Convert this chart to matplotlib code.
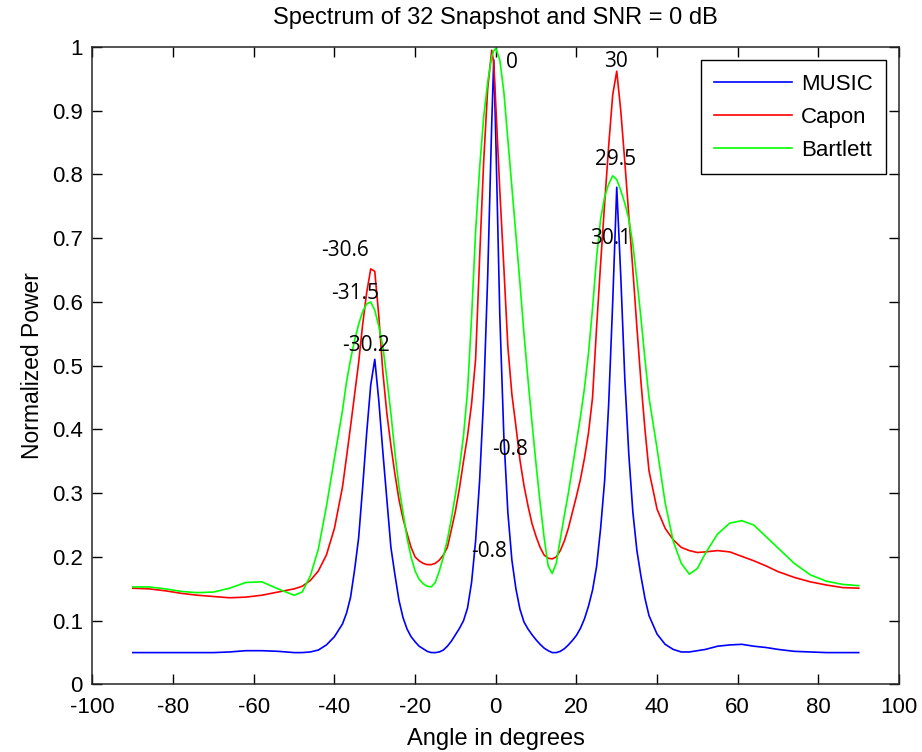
import matplotlib
matplotlib.use("Agg")
import matplotlib.pyplot as plt

# angle grid (degrees)
angles = [-90, -86, -82, -78, -74, -70, -66, -62, -58, -54, -50, -48, -46, -44, -42, -40, -38,
          -37, -36, -35, -34, -33, -32, -31, -30, -29, -28, -27, -26, -25, -24, -23, -22, -21, -20,
          -19, -18, -17, -16, -15, -14, -13, -12, -11, -10, -9, -8, -7, -6, -5, -4, -3, -2, -1,
          -0.5,
          0, 1, 2, 3, 4, 5, 6, 7, 8, 9, 10, 11, 12, 13, 14, 15, 16, 17, 18, 19, 20,
          21, 22, 23, 24, 25, 26, 27, 28, 29, 30, 31, 32, 33, 34, 35, 36, 37,
          38, 40, 42, 44, 46, 48, 50, 52, 55, 58, 61, 64, 67, 70, 74, 78, 82, 86, 90]

music = [.050, .050, .050, .050, .050, .050, .051, .053, .053, .052, .050, .050, .051, .054, .062, .075, .095,
         .112, .137, .180, .230, .310, .395, .470, .510, .445, .365, .290, .215, .172, .132, .105, .087, .075, .067,
         .060, .056, .052, .050, .050, .051, .054, .060, .068, .078, .088, .100, .120, .160, .225, .320, .450, .640, .880,
         .980,
         .860, .580, .390, .270, .195, .150, .118, .098, .087, .078, .070, .063, .057, .053, .050, .050, .052, .056, .062, .069, .077,
         .088, .103, .123, .148, .185, .245, .320, .440, .600, .780, .640, .480, .360, .270, .210, .170, .135,
         .108, .079, .063, .055, .051, .051, .053, .055, .060, .062, .063, .060, .058, .055, .052, .051, .050, .050, .050]

capon = [.151, .150, .147, .143, .140, .138, .136, .137, .140, .145, .150, .154, .163, .178, .203, .245, .310,
         .357, .405, .455, .505, .565, .615, .652, .648, .578, .490, .425, .375, .330, .290, .260, .237, .215, .200,
         .194, .190, .188, .188, .190, .195, .203, .215, .243, .272, .308, .350, .390, .440, .510, .670, .820, .935, .995,
         .975,
         .910, .775, .655, .530, .455, .405, .352, .312, .280, .252, .232, .215, .203, .198, .197, .200, .210, .225, .245, .270, .295,
         .322, .355, .395, .450, .560, .660, .755, .845, .925, .962, .900, .820, .735, .650, .560, .475, .400,
         .335, .275, .245, .227, .215, .210, .207, .208, .210, .208, .201, .194, .186, .177, .168, .161, .156, .152, .151]

bartlett = [.153, .153, .150, .146, .144, .145, .151, .160, .161, .150, .140, .145, .170, .212, .279, .355, .430,
            .475, .510, .540, .565, .585, .597, .600, .587, .562, .530, .480, .425, .363, .310, .270, .230, .200, .178,
            .165, .158, .154, .153, .160, .178, .200, .227, .260, .298, .340, .390, .460, .575, .710, .810, .890, .945, .985,
            .994,
            .998, .980, .930, .855, .780, .705, .630, .550, .478, .410, .345, .285, .230, .186, .174, .190, .228, .265, .300, .340, .380,
            .420, .465, .520, .590, .670, .730, .765, .785, .798, .792, .775, .755, .730, .690, .635, .575, .510,
            .450, .370, .285, .225, .190, .173, .182, .206, .236, .253, .257, .250, .232, .214, .190, .172, .162, .157, .155]

# peak annotations: text, x (deg), y (power)
peak_text = ["-30.6", "-31.5", "-30.2", "0", "30", "29.5", "30.1", "-0.8", "-0.8"]
peak_x = [-37.4, -34.9, -32.2, 4.0, 29.8, 29.6, 28.6, 3.5, -1.7]
peak_y = [0.681, 0.614, 0.531, 0.975, 0.978, 0.823, 0.700, 0.369, 0.209]

plt.rcParams['font.family'] = ['Liberation Sans', 'DejaVu Sans']
plt.rcParams['font.size'] = 16
plt.rcParams['axes.unicode_minus'] = False

fig = plt.figure(figsize=(9.22, 7.52), dpi=100)
ax = fig.add_axes([0.1003, 0.0898, 0.8748, 0.8477])

ax.plot(angles, music, color=(0, 0, 1), lw=1.2, label='MUSIC')
ax.plot(angles, capon, color=(1, 0, 0), lw=1.2, label='Capon')
ax.plot(angles, bartlett, color=(0, 1, 0), lw=1.2, label='Bartlett')

for t, x, y in zip(peak_text, peak_x, peak_y):
    ax.text(x, y, t, ha='center', va='center', fontsize=15, family=['Open Sans', 'DejaVu Sans'])

ax.set_xlim(-100, 100)
ax.set_ylim(0, 1)
ax.set_xticks(range(-100, 101, 20))
ax.set_yticks([i / 10 for i in range(11)])
ax.set_yticklabels(['0', '0.1', '0.2', '0.3', '0.4', '0.5', '0.6', '0.7', '0.8', '0.9', '1'])
ax.tick_params(direction='in', length=7, width=1, top=True, right=True, labelsize=16)
ax.tick_params(axis='x', pad=9)
ax.tick_params(axis='y', pad=7)
for s in ax.spines.values():
    s.set_linewidth(1.1)
    s.set_color('#262626')

fig.text(0.5377, 0.976, 'Spectrum of 32 Snapshot and SNR = 0 dB', ha='center', va='center', fontsize=17)
fig.text(0.5377, 0.0173, 'Angle in degrees', ha='center', va='center', fontsize=17)
fig.text(0.035, 0.5136, 'Normalized Power', ha='center', va='center', rotation=90, fontsize=16.5)

leg = ax.legend(loc='upper right', fontsize=16, handlelength=3.5, handletextpad=0.4,
                labelspacing=0.55, borderpad=0.6, borderaxespad=0.6, fancybox=False,
                framealpha=1, edgecolor='black')
leg.get_frame().set_linewidth(1.0)

fig.savefig('out.png', dpi=100)
